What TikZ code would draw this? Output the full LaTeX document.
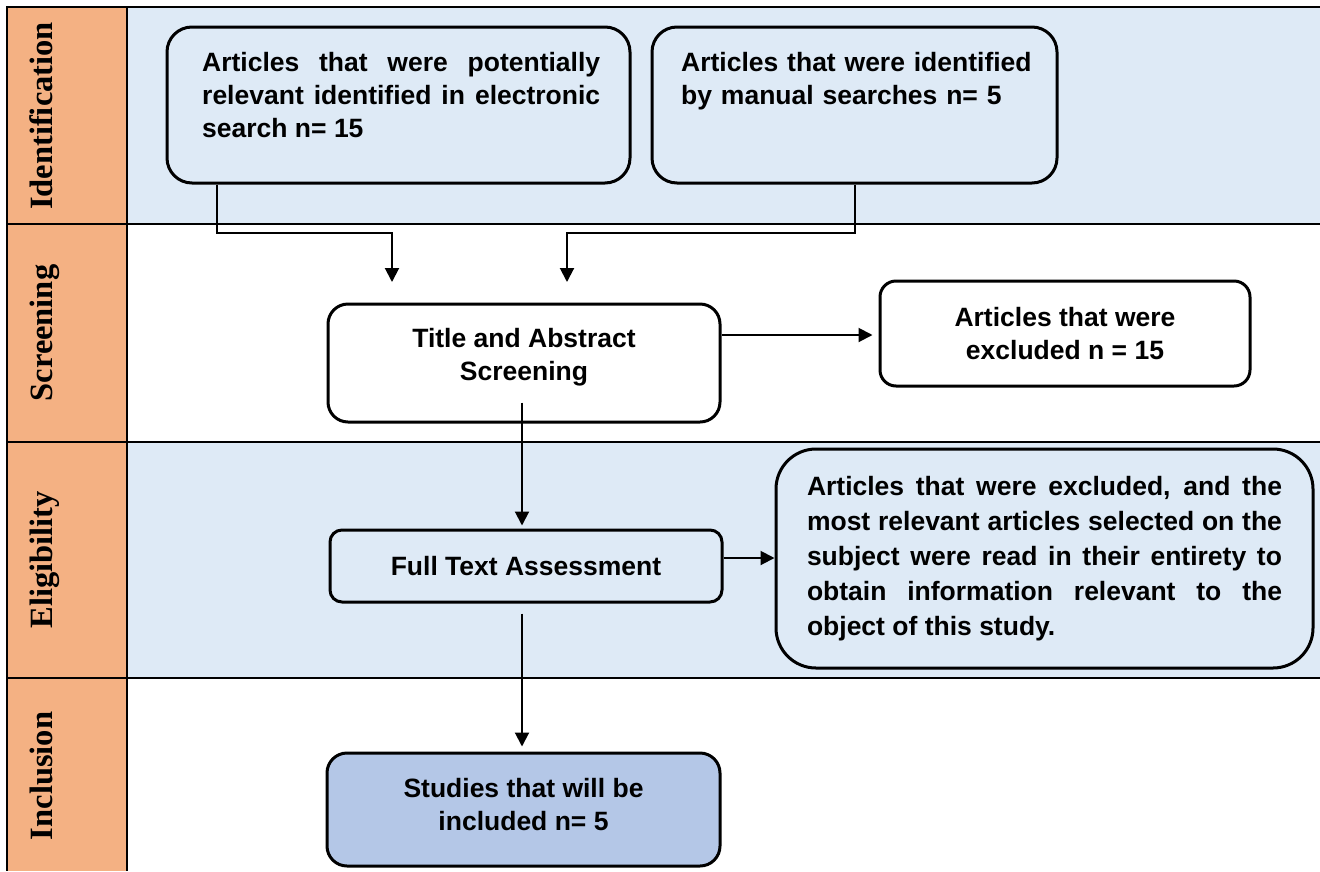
\documentclass[tikz,border=0pt]{standalone}
\usepackage{fontspec}
\setmainfont{Liberation Sans}
\newfontfamily\lblfont{Liberation Serif}
\usetikzlibrary{arrows.meta}
\definecolor{lane}{HTML}{F4B183}
\definecolor{pale}{HTML}{DEEAF6}
\definecolor{incl}{HTML}{B4C7E7}
\tolerance=10000 \hbadness=10000 \hyphenpenalty=10000 \exhyphenpenalty=10000
\begin{document}
\begin{tikzpicture}[x=1pt,y=-1pt,
  frame/.style={line width=2.5pt},
  lanelabel/.style={rotate=90,anchor=base,inner sep=0,font=\lblfont\bfseries\fontsize{32.5}{36}\selectfont},
  stepbox/.style={draw,line width=3pt,inner sep=0,align=center,font=\bfseries\fontsize{26.5}{33}\selectfont},
  txt/.style={inner sep=0,anchor=north west,font=\bfseries\fontsize{26.5}{33}\selectfont},
  ctxt/.style={inner sep=0,align=center,font=\bfseries\fontsize{26.5}{33}\selectfont},
  arr/.style={line width=2pt,-{Triangle[length=14pt,width=14pt]}}]
\useasboundingbox (0,0) rectangle (1320,871);
% lanes
\fill[pale] (127,7) rectangle (1320,224);
\fill[pale] (127,442) rectangle (1320,678);
\fill[lane] (7,7) rectangle (127,871);
\draw[frame] (1320,7) -- (7,7) -- (7,871);
\draw[frame] (127,7) -- (127,871);
\draw[frame] (7,224) -- (1320,224);
\draw[frame] (7,442) -- (1320,442);
\draw[frame] (7,678) -- (1320,678);
\node[lanelabel] (L1) at (52,116) {Identification};
\node[lanelabel] (L2) at (52,333) {Screening};
\node[lanelabel] (L3) at (52,560) {Eligibility};
\node[lanelabel] (L4) at (52,776) {Inclusion};
% boxes
\node[stepbox,rounded corners=25pt,minimum width=463pt,minimum height=156pt,fill=pale] (A) at (398.5,105) {};
\node[txt,text width=398pt,align=justify] (At) at (202,52) {Articles that were potentially\linebreak relevant identified in electronic\linebreak search n= 15};
\node[stepbox,rounded corners=25pt,minimum width=405pt,minimum height=156pt,fill=pale] (B) at (854.5,105) {};
\node[txt,text width=360pt,align=left] (Bt) at (681,52) {Articles that were identified\\by manual searches n= 5};
\node[stepbox,rounded corners=20pt,minimum width=392pt,minimum height=118pt,fill=white] (T) at (524,363) {};
\node[ctxt] (Tt) at (524,357.5) {Title and Abstract\\Screening};
\node[stepbox,rounded corners=16pt,minimum width=370pt,minimum height=105pt,fill=white] (X) at (1065,333.5) {Articles that were\\excluded n = 15};
\node[stepbox,rounded corners=12pt,minimum width=392pt,minimum height=72pt,fill=pale] (F) at (526,566) {Full Text Assessment};
\node[stepbox,rounded corners=40pt,minimum width=537pt,minimum height=219pt,fill=pale,text width=475pt,align=justify,font=\bfseries\fontsize{26.5}{35}\selectfont] (G) at (1044.5,558.5) {Articles that were excluded, and the\linebreak most relevant articles selected on the\linebreak subject were read in their entirety to\linebreak obtain information relevant to the\linebreak object of this study.};
\node[stepbox,rounded corners=20pt,minimum width=393pt,minimum height=113pt,fill=incl] (S) at (523.5,809.5) {};
\node[ctxt] (St) at (523.5,804.5) {Studies that will be\\included n= 5};
% connectors
\coordinate (xa) at (217,0);
\coordinate (ja) at (392,233);
\coordinate (ea) at (392,282);
\coordinate (xb) at (855,0);
\coordinate (jb) at (567,233);
\coordinate (eb) at (567,282);
\coordinate (ty) at (0,335);
\coordinate (fy) at (0,558);
\coordinate (xv) at (522,0);
\draw[arr] (A.south -| xa) |- (ja) -- (ea);
\draw[arr] (B.south -| xb) |- (jb) -- (eb);
\draw[arr,shorten >=6pt] (T.east |- ty) -- (X.west |- ty);
\draw[arr,shorten <=-21pt,shorten >=3pt] (T.south -| xv) -- (F.north -| xv);
\draw[arr] (F.east |- fy) -- (G.west |- fy);
\draw[arr,shorten <=10pt,shorten >=5pt] (F.south -| xv) -- (S.north -| xv);
\end{tikzpicture}
\end{document}
